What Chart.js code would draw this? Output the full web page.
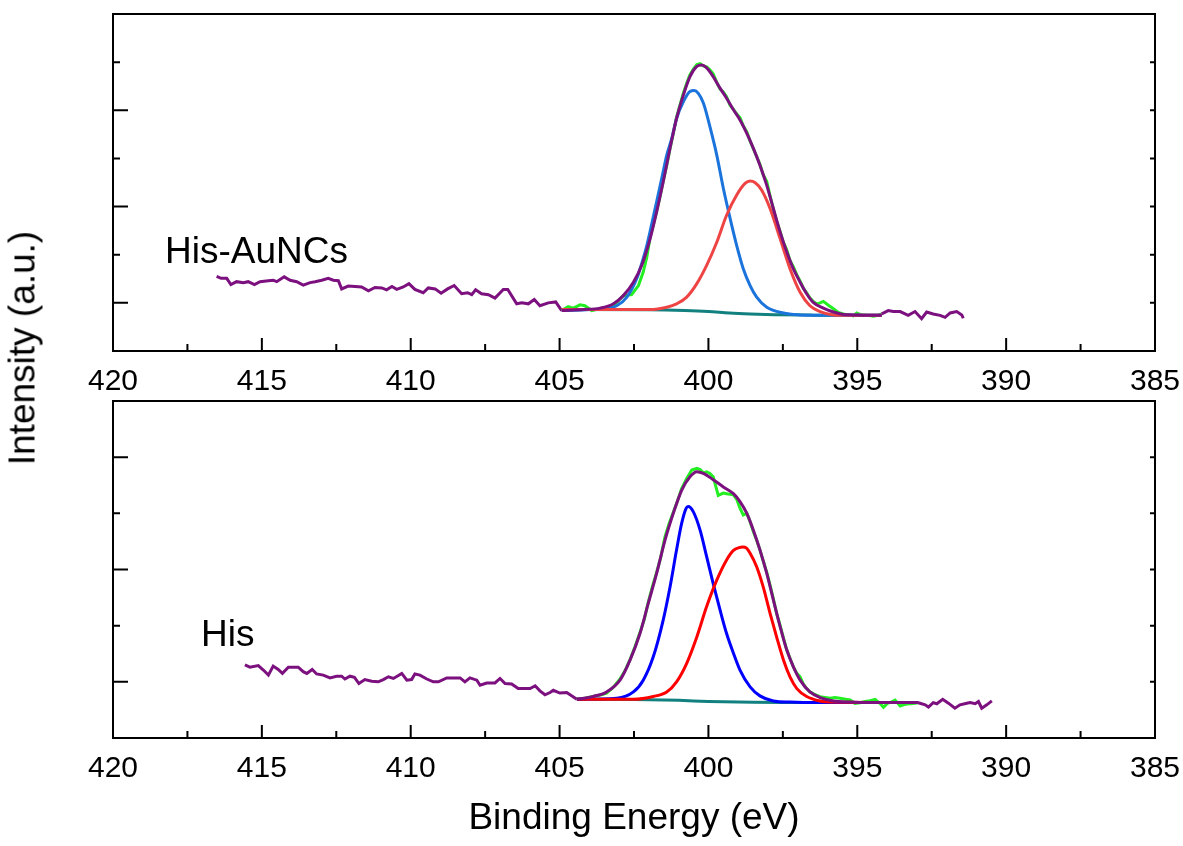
<!DOCTYPE html>
<html>
<head>
<meta charset="utf-8">
<script src="https://cdn.jsdelivr.net/npm/chart.js@4.4.1/dist/chart.umd.min.js"></script>
<style>
  body { margin: 0; background: #fff; width: 1183px; height: 846px; position: relative; overflow: hidden; }
  canvas { position: absolute; left: 0; }
  #ylab {
    position: absolute; left: 22px; top: 348px;
    transform: translate(-50%, -50%) rotate(-90deg);
    font: 37px "Liberation Sans", Arial, sans-serif; line-height: 1;
    white-space: nowrap; color: #000;
  }
</style>
</head>
<body>
<canvas id="topChart" width="1183" height="395" style="top:0"></canvas>
<canvas id="bottomChart" width="1183" height="451" style="top:395px"></canvas>
<div id="ylab">Intensity (a.u.)</div>
<script>
// binding energy (eV), intensity (a.u.)

// ---- His-AuNCs (top) ----
const topRaw = [
  [416.52,1.55],[416.37,1.51],[416.18,1.51],[416.04,1.38],[415.85,1.44],[415.62,1.42],[415.46,1.44],
  [415.25,1.38],[415.06,1.44],[414.78,1.46],[414.62,1.47],[414.50,1.44],[414.25,1.54],[414.05,1.47],
  [413.83,1.44],[413.61,1.37],[413.38,1.42],[413.21,1.44],[412.99,1.47],[412.77,1.51],[412.60,1.47],
  [412.43,1.46],[412.32,1.29],[412.10,1.35],[411.87,1.34],[411.65,1.33],[411.42,1.25],[411.20,1.32],
  [410.97,1.31],[410.81,1.27],[410.63,1.34],[410.47,1.28],[410.25,1.33],[410.06,1.40],[409.86,1.28],
  [409.58,1.21],[409.41,1.31],[409.18,1.29],[408.98,1.20],[408.76,1.29],[408.54,1.36],[408.29,1.19],
  [408.09,1.21],[407.95,1.17],[407.82,1.27],[407.62,1.19],[407.39,1.17],[407.17,1.10],[406.89,1.28],
  [406.74,1.28],[406.44,0.98],[406.27,1.00],[406.05,0.98],[405.85,1.07],[405.66,0.94],[405.38,1.00],
  [405.13,1.02],
  [404.93,0.84],[404.71,0.92],[404.54,0.89],[404.31,0.96],[404.15,0.94],[403.92,0.84],[403.64,0.88],
  [403.45,0.89],[403.25,0.91],[403.08,1.01],[402.86,1.15],[402.58,1.17],[402.35,1.36],[402.19,1.64],
  [402.07,1.95],[401.96,2.36],[401.85,2.62],[401.74,2.90],[401.63,3.20],[401.52,3.52],[401.40,3.86],
  [401.29,4.20],[401.18,4.52],[401.07,4.86],[400.95,5.12],[400.84,5.36],[400.73,5.56],[400.62,5.74],
  [400.50,5.86],[400.39,5.95],[400.28,5.97],[400.17,5.92],[400.06,5.90],[399.95,5.84],[399.84,5.76],
  [399.72,5.58],[399.61,5.44],[399.50,5.38],[399.39,5.28],[399.27,5.10],[399.16,5.02],[399.05,4.92],
  [398.94,4.85],[398.83,4.68],[398.71,4.55],[398.60,4.36],[398.49,4.20],[398.38,4.04],[398.27,3.88],
  [398.16,3.66],[398.04,3.52],[397.93,3.22],[397.82,2.95],[397.71,2.70],[397.59,2.48],[397.48,2.25],
  [397.37,2.10],[397.26,1.88],[397.15,1.75],[397.03,1.58],[396.92,1.45],[396.81,1.30],[396.70,1.21],
  [396.59,1.10],[396.48,1.03],[396.36,0.98],[396.25,1.00],[396.14,1.03],[395.97,0.95],[395.80,0.88],
  [395.64,0.80],[395.47,0.77],[395.30,0.75],[395.13,0.73],[395.02,0.79],[394.91,0.76],[394.80,0.75],
  [394.63,0.74],[394.46,0.72],[394.30,0.74],[394.18,0.77],
  [393.96,0.84],[393.79,0.82],[393.56,0.82],[393.29,0.74],[393.06,0.82],[392.84,0.67],[392.67,0.81],
  [392.45,0.77],[392.22,0.74],[392.05,0.70],[391.88,0.79],[391.66,0.82],[391.49,0.75],[391.44,0.68]
];
const topFitRange = [394.18, 404.93];
const topSum = [
  [404.93,0.84],[404.20,0.86],[403.64,0.89],[403.19,0.98],[402.86,1.15],[402.52,1.43],[402.24,1.78],
  [401.96,2.33],[401.74,2.89],[401.52,3.51],[401.29,4.21],[401.07,4.83],[400.84,5.32],[400.62,5.70],
  [400.39,5.91],[400.23,5.94],[400.06,5.88],[399.84,5.70],[399.61,5.46],[399.39,5.25],[399.16,5.01],
  [398.94,4.80],[398.71,4.52],[398.49,4.21],[398.27,3.86],[398.04,3.44],[397.82,2.96],[397.59,2.47],
  [397.37,2.06],[397.15,1.71],[396.92,1.43],[396.70,1.19],[396.48,1.01],[396.14,0.89],[395.80,0.81],
  [395.47,0.76],[395.13,0.75],[394.68,0.74],[394.18,0.74]
];
const topPeak1 = [
  [404.93,0.84],[403.64,0.875],[403.08,0.94],[402.74,1.12],[402.41,1.50],[402.24,1.82],[402.07,2.19],
  [401.90,2.65],[401.74,3.10],[401.57,3.58],[401.40,4.07],[401.23,4.42],[401.07,4.83],[400.84,5.18],
  [400.62,5.39],[400.48,5.41],[400.34,5.35],[400.17,5.15],[399.95,4.66],[399.72,4.07],[399.50,3.38],
  [399.27,2.75],[399.05,2.19],[398.83,1.71],[398.60,1.36],[398.38,1.12],[398.04,0.91],[397.48,0.79],
  [396.92,0.75],[396.36,0.74],[394.18,0.74]
];
const topPeak2 = [
  [404.93,0.86],[401.96,0.86],[401.40,0.91],[401.07,0.98],[400.73,1.12],[400.39,1.40],[400.06,1.78],
  [399.72,2.26],[399.39,2.82],[399.05,3.24],[398.77,3.48],[398.60,3.53],[398.44,3.50],[398.21,3.34],
  [397.93,2.96],[397.59,2.33],[397.26,1.71],[396.92,1.22],[396.59,0.94],[396.25,0.82],[395.80,0.75],
  [395.24,0.74],[394.18,0.74]
];
const topBackground = [
  [404.93,0.86],[402.0,0.855],[400.8,0.84],[400.0,0.82],[399.3,0.79],[398.6,0.77],[397.8,0.755],
  [396.5,0.745],[394.18,0.74]
];

// ---- His (bottom) ----
const botRaw = [
  [415.57,1.30],[415.40,1.26],[415.12,1.29],[414.95,1.21],[414.78,1.12],[414.62,1.28],[414.45,1.22],
  [414.31,1.15],[414.11,1.26],[413.78,1.26],[413.61,1.18],[413.49,1.15],[413.31,1.22],[413.16,1.14],
  [412.94,1.12],[412.71,1.07],[412.49,1.10],[412.32,1.10],[412.21,1.05],[412.04,1.10],[411.89,1.08],
  [411.74,0.97],[411.54,1.04],[411.31,1.01],[411.09,1.00],[410.92,1.04],[410.75,1.09],[410.58,1.06],
  [410.30,1.15],[410.13,1.03],[409.97,1.04],[409.86,1.14],[409.69,1.12],[409.46,1.05],[409.24,1.00],
  [409.07,1.00],[408.79,1.07],[408.57,1.07],[408.34,1.07],[408.18,1.00],[408.01,1.07],[407.78,1.03],
  [407.67,0.94],[407.45,0.98],[407.17,0.98],[407.00,1.06],[406.83,0.97],[406.61,0.96],[406.39,0.88],
  [405.99,0.88],[405.82,0.93],[405.66,0.84],[405.49,0.77],[405.32,0.81],[405.21,0.85],[404.99,0.80],
  [404.76,0.81],
  [404.42,0.69],[404.15,0.71],[403.87,0.74],[403.60,0.77],[403.42,0.80],[403.20,0.90],[402.97,1.05],
  [402.80,1.20],[402.63,1.40],[402.47,1.62],[402.30,1.88],[402.15,2.12],[402.02,2.42],[401.88,2.70],
  [401.74,2.95],[401.60,3.22],[401.46,3.58],[401.32,3.82],[401.18,4.02],[401.04,4.22],[400.90,4.44],
  [400.73,4.62],[400.56,4.77],[400.39,4.80],[400.28,4.78],[400.17,4.72],[400.06,4.74],[399.95,4.71],
  [399.84,4.65],[399.67,4.32],[399.50,4.36],[399.39,4.35],[399.16,4.33],[399.05,4.25],[398.94,4.09],
  [398.83,3.97],[398.71,4.00],[398.60,3.85],[398.49,3.67],[398.38,3.52],[398.27,3.35],[398.16,3.15],
  [398.04,2.95],[397.93,2.72],[397.82,2.48],[397.71,2.22],[397.59,2.00],[397.48,1.78],[397.37,1.57],
  [397.26,1.42],[397.15,1.27],[397.03,1.15],[396.92,1.09],[396.81,0.96],[396.70,0.88],[396.59,0.82],
  [396.48,0.79],[396.36,0.76],[396.25,0.735],[396.08,0.72],[395.91,0.706],[395.75,0.72],[395.58,0.706],
  [395.40,0.69],[395.24,0.676],[395.08,0.617],[394.91,0.628],[394.74,0.65],[394.57,0.664],[394.40,0.689],
  [394.24,0.617],[394.12,0.546],[393.99,0.617],[393.86,0.64],[393.73,0.676],[393.56,0.569],[393.45,0.59],
  [393.34,0.605],[393.20,0.61],[393.06,0.617],[392.95,0.628],
  [392.72,0.59],[392.61,0.55],[392.45,0.63],[392.33,0.61],[392.13,0.69],[391.94,0.62],[391.72,0.53],
  [391.55,0.59],[391.32,0.62],[391.21,0.63],[391.04,0.61],[390.93,0.65],[390.82,0.53],[390.65,0.59],
  [390.48,0.66]
];
const botFitRange = [392.95, 404.42];
const botSum = [
  [404.42,0.69],[403.87,0.74],[403.42,0.82],[402.97,1.03],[402.63,1.39],[402.30,1.86],[402.02,2.40],
  [401.74,2.93],[401.46,3.52],[401.18,4.00],[400.90,4.41],[400.62,4.65],[400.39,4.74],[400.17,4.71],
  [399.84,4.60],[399.50,4.47],[399.16,4.35],[398.94,4.21],[398.71,4.00],[398.49,3.70],[398.27,3.35],
  [398.04,2.93],[397.82,2.46],[397.59,1.98],[397.37,1.57],[397.15,1.27],[396.92,1.03],[396.59,0.82],
  [396.25,0.72],[395.80,0.66],[395.24,0.64],[394.68,0.63],[392.95,0.63]
];
const botPeak1 = [
  [404.42,0.69],[403.08,0.71],[402.52,0.82],[402.19,1.03],[401.85,1.45],[401.52,2.10],[401.29,2.69],
  [401.07,3.35],[400.90,3.82],[400.75,4.09],[400.68,4.12],[400.51,4.03],[400.28,3.70],[400.06,3.23],
  [399.84,2.75],[399.61,2.28],[399.39,1.86],[399.16,1.51],[398.94,1.21],[398.60,0.91],[398.27,0.75],
  [397.82,0.66],[397.26,0.64],[396.36,0.63],[392.95,0.63]
];
const botPeak2 = [
  [404.42,0.69],[402.52,0.69],[401.85,0.74],[401.40,0.82],[401.07,1.00],[400.73,1.33],[400.39,1.80],
  [400.06,2.34],[399.72,2.81],[399.39,3.17],[399.16,3.34],[398.97,3.39],[398.85,3.40],[398.72,3.38],
  [398.60,3.29],[398.38,3.05],[398.16,2.69],[397.93,2.22],[397.71,1.80],[397.48,1.39],[397.26,1.09],
  [397.03,0.88],[396.70,0.74],[396.25,0.66],[395.80,0.64],[392.95,0.63]
];
const botBackground = [
  [404.42,0.69],[402.5,0.685],[401.0,0.67],[400.0,0.65],[398.5,0.635],[397.5,0.63],[392.95,0.63]
];

Chart.defaults.font.family = '"Liberation Sans", Arial, sans-serif';
Chart.defaults.color = '#000';

const PURPLE = '#7b107e';
const GREEN = '#22ee22';
const TEAL = '#11807f';

const toXY = arr => arr.map(p => ({x: p[0], y: p[1]}));

// box, inward ticks and the sample label
const framePlugin = {
  id: 'frame',
  afterDatasetsDraw(chart, args, opts) {
    const {ctx, chartArea: a, scales: {x, y}} = chart;
    ctx.save();
    ctx.strokeStyle = '#000';
    ctx.lineWidth = 2;
    ctx.strokeRect(a.left, a.top, a.right - a.left, a.bottom - a.top);
    ctx.beginPath();
    for (let e = x.min; e <= x.max; e += 2.5) {
      const px = x.getPixelForValue(e);
      const len = e % 5 === 0 ? 13 : 7;
      ctx.moveTo(px, a.bottom);
      ctx.lineTo(px, a.bottom - len);
    }
    for (let v = 1; v < y.max; v++) {
      const py = y.getPixelForValue(v);
      ctx.moveTo(a.left, py);
      ctx.lineTo(a.left + (v % 2 ? 15 : 7), py);
      ctx.moveTo(a.right, py);
      ctx.lineTo(a.right - 5, py);
    }
    ctx.stroke();
    ctx.font = '37px "Liberation Sans", Arial, sans-serif';
    ctx.fillStyle = '#000';
    ctx.textAlign = 'left';
    ctx.textBaseline = 'alphabetic';
    ctx.fillText(opts.text, x.getPixelForValue(opts.at[0]), y.getPixelForValue(opts.at[1]));
    ctx.restore();
  }
};

function smooth(data, color) {
  return {data: toXY(data), borderColor: color, borderWidth: 3, cubicInterpolationMode: 'monotone', fill: false};
}

function makeChart(id, p) {
  return new Chart(document.getElementById(id), {
    type: 'line',
    data: {
      datasets: [
        smooth(p.sum, PURPLE),
        smooth(p.peak2, p.red),
        smooth(p.peak1, p.blue),
        smooth(p.bg, TEAL),
        {
          data: toXY(p.raw),
          borderColor: PURPLE,
          borderWidth: 3,
          tension: 0,
          segment: {
            borderColor: c => (c.p0.parsed.x <= p.fit[1] + 1e-6 && c.p1.parsed.x >= p.fit[0] - 1e-6) ? GREEN : PURPLE
          }
        }
      ]
    },
    options: {
      responsive: false,
      animation: false,
      events: [],
      layout: {padding: {left: 113, right: 28, top: p.padTop, bottom: 0}},
      elements: {point: {radius: 0}},
      plugins: {
        legend: {display: false},
        tooltip: {enabled: false},
        frame: {text: p.label, at: p.labelAt}
      },
      scales: {
        x: {
          type: 'linear', min: 385, max: 420, reverse: true,
          grid: {display: false, drawTicks: false},
          border: {display: false},
          ticks: {stepSize: 5, padding: 13, font: {size: 30}, color: '#000'},
          title: p.xTitle
            ? {display: true, text: 'Binding Energy (eV)', font: {size: 37}, color: '#000', padding: {top: 0, bottom: 5}}
            : {display: false},
          afterFit: s => {
            s.height = p.axisHeight;
            s.paddingLeft = 0;
            s.paddingRight = 0;
          }
        },
        y: {display: false, min: 0, max: p.yMax}
      }
    },
    plugins: [framePlugin]
  });
}

makeChart('topChart', {
  raw: topRaw, fit: topFitRange, sum: topSum, peak1: topPeak1, peak2: topPeak2, bg: topBackground,
  blue: '#1b74dc', red: '#ee4444',
  yMax: 7, padTop: 14, axisHeight: 44, xTitle: false,
  label: 'His-AuNCs', labelAt: [418.25, 1.83]
});

makeChart('bottomChart', {
  raw: botRaw, fit: botFitRange, sum: botSum, peak1: botPeak1, peak2: botPeak2, bg: botBackground,
  blue: '#0000ff', red: '#ff0000',
  yMax: 6, padTop: 6, axisHeight: 108, xTitle: true,
  label: 'His', labelAt: [417.04, 1.64]
});
</script>
</body>
</html>
